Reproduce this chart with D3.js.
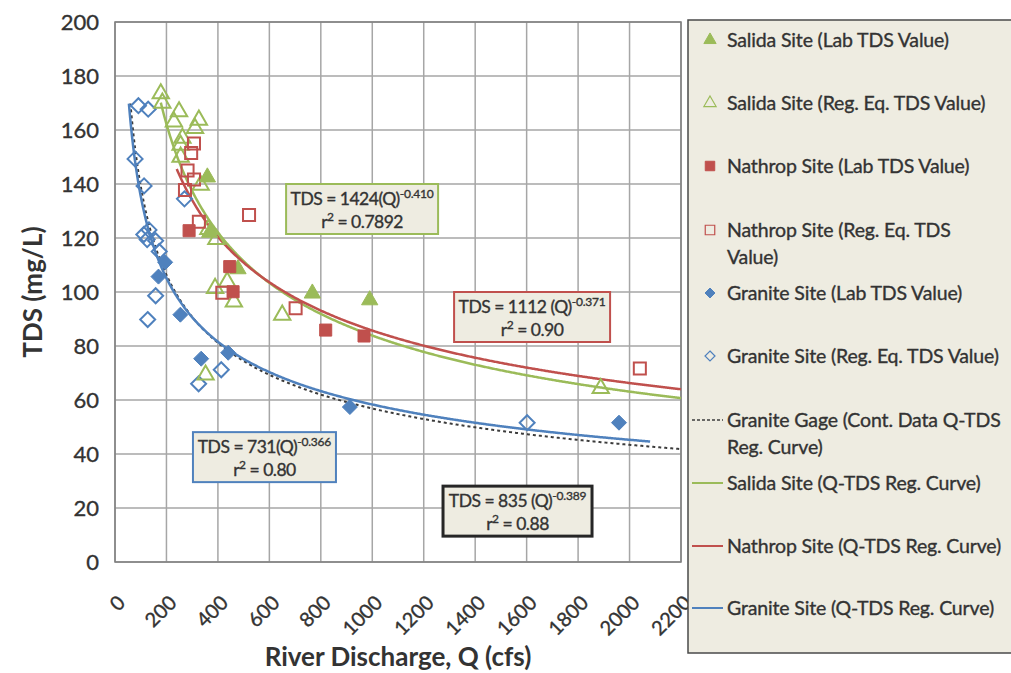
<!DOCTYPE html>
<html>
<head>
<meta charset="utf-8">
<script src="https://cdn.jsdelivr.net/npm/d3@7"></script>
<style>
  html, body { margin: 0; padding: 0; background: #fff; }
  svg { display: block; }
  text { font-family: Lato, "Open Sans", sans-serif; fill: #333; }
  .heavy { stroke: #333; stroke-width: 0.35px; }
</style>
</head>
<body>
<svg id="chart" width="1011" height="673"></svg>
<script>
// Discharge (cfs) and TDS (mg/L) pairs for each sampling series
const salidaLab = [[359, 142.5], [368, 122], [478, 108.5], [767, 99.5], [990, 97]];
const salidaReg = [[178, 173.5], [184, 170], [249, 166.8], [229, 163], [326, 163.7], [311, 160.6],
  [262, 157], [255, 154.4], [255, 150], [333, 139.6], [363, 123.2], [394, 119.5],
  [436, 103.8], [389, 101.4], [462, 96.4], [352, 69.3], [650, 91.5], [1888, 64.3]];
const nathropLab = [[288, 122.7], [446, 109.4], [459, 100.1], [819, 85.9], [968, 83.7]];
const nathropReg = [[307, 155], [296, 151.5], [282, 145], [307, 141.7], [272, 137.8], [326, 126],
  [521, 128.5], [417, 99.7], [702, 94], [2040, 71.7]];
const graniteLab = [[195, 111], [169, 105.7], [254, 91.6], [335, 75.3], [440, 77.5], [913, 57.4], [1959, 51.6]];
const graniteReg = [[91, 169], [129, 167.7], [78, 149.3], [113, 139.3], [270, 134.5], [112, 121.3],
  [132, 123], [125, 119.4], [158, 119], [172, 115], [158, 98.6], [127, 89.8], [325, 66],
  [413, 71.2], [1602, 51.6]];

// Power-law regression curves TDS = a * Q^b and the discharge span each one covers
const curveNames = ["gage", "salida", "nathrop", "granite"];
const curveCoef = [835, 1424, 1112, 731];
const curveExp = [-0.389, -0.410, -0.371, -0.366];
const curveQStart = [60, 178, 240, 54];
const curveQEnd = [2200, 2200, 2200, 2080];

// Equation call-outs: equation lead, exponent, r-squared
const eqLead = ["TDS = 1424(Q)", "TDS = 1112 (Q)", "TDS = 731(Q)", "TDS = 835 (Q)"];
const eqExp = ["-0.410", "-0.371", "-0.366", "-0.389"];
const eqR2 = ["0.7892", "0.90", "0.80", "0.88"];
const eqAnchorQ = [665, 1318, 303, 1275];
const eqAnchorTDS = [140, 100, 48.1, 28.1];

const xTicks = d3.range(0, 2201, 200);
const yTicks = d3.range(0, 201, 20);

const legendLabels = [
  ["Salida Site (Lab TDS Value)"],
  ["Salida Site (Reg. Eq. TDS Value)"],
  ["Nathrop Site (Lab TDS Value)"],
  ["Nathrop Site (Reg. Eq. TDS", "Value)"],
  ["Granite Site (Lab TDS Value)"],
  ["Granite Site (Reg. Eq. TDS Value)"],
  ["Granite Gage (Cont. Data Q-TDS", "Reg. Curve)"],
  ["Salida Site (Q-TDS Reg. Curve)"],
  ["Nathrop Site (Q-TDS Reg. Curve)"],
  ["Granite Site (Q-TDS Reg. Curve)"]
];

const GREEN = "#9bbb59", RED = "#c0504d", BLUE = "#4f81bd", DARK = "#3c3c3c";
const BEIGE = "#eeece1";

const svg = d3.select("#chart");
const plot = { left: 115, right: 681, top: 22, bottom: 562 };

const x = d3.scaleLinear().domain([0, 2200]).range([plot.left, plot.right]);
const y = d3.scaleLinear().domain([0, 200]).range([plot.bottom, plot.top]);

// Grid
const grid = svg.append("g");
grid.selectAll("line.vg").data(xTicks).join("line")
  .attr("x1", d => x(d)).attr("x2", d => x(d))
  .attr("y1", plot.top).attr("y2", plot.bottom)
  .attr("stroke", "#a6a6a6").attr("stroke-width", 1.5);
grid.selectAll("line.hg").data(yTicks).join("line")
  .attr("x1", plot.left).attr("x2", plot.right)
  .attr("y1", d => y(d)).attr("y2", d => y(d))
  .attr("stroke", "#a6a6a6").attr("stroke-width", 1.5);
svg.append("rect")
  .attr("x", plot.left).attr("y", plot.top)
  .attr("width", plot.right - plot.left).attr("height", plot.bottom - plot.top)
  .attr("fill", "none").attr("stroke", "#7f7f7f").attr("stroke-width", 1.5);

// Axes (tick labels only, the grid provides the lines)
const yAxis = svg.append("g").attr("transform", `translate(${plot.left},0)`)
  .call(d3.axisLeft(y).tickValues(yTicks).tickSize(0).tickPadding(16));
yAxis.select(".domain").remove();
yAxis.selectAll("text").attr("font-size", 22).attr("font-family", "Lato, sans-serif")
  .attr("fill", "#333").attr("class", "heavy");

const xAxis = svg.append("g").attr("transform", `translate(0,${plot.bottom})`)
  .call(d3.axisBottom(x).tickValues(xTicks).tickSize(0).tickFormat(d3.format("d")));
xAxis.select(".domain").remove();
xAxis.selectAll("text")
  .attr("font-size", 20).attr("font-family", "Lato, sans-serif").attr("fill", "#333")
  .attr("class", "heavy")
  .attr("text-anchor", "end").attr("dy", null).attr("y", 0)
  .attr("transform", () => `translate(11,42) rotate(-45)`);

// Axis titles
svg.append("text").attr("x", 398).attr("y", 666).attr("text-anchor", "middle")
  .attr("font-size", 26).attr("font-weight", "bold").text("River Discharge, Q (cfs)");
svg.append("text").attr("transform", "translate(42,292) rotate(-90)").attr("text-anchor", "middle")
  .attr("font-size", 26).attr("font-weight", "bold").text("TDS (mg/L)");

// Regression curves
const curveColor = { gage: DARK, salida: GREEN, nathrop: RED, granite: BLUE };
const line = d3.line().x(d => x(d[0])).y(d => y(d[1]));
curveNames.forEach((name, i) => {
  const a = curveCoef[i], b = curveExp[i];
  const qs = d3.range(curveQStart[i], curveQEnd[i], 4).concat([curveQEnd[i]]);
  const pts = qs.map(q => [q, a * Math.pow(q, b)]);
  svg.append("path").datum(pts).attr("d", line).attr("fill", "none")
    .attr("stroke", curveColor[name])
    .attr("stroke-width", name === "gage" ? 2 : 2.5)
    .attr("stroke-dasharray", name === "gage" ? "3,3" : null);
});

// Marker shapes
const triPath = d3.symbol().type(d3.symbolTriangle).size(115)();
const sqPath = d3.symbol().type(d3.symbolSquare).size(145)();
const diamondPath = r => `M0,${-r}L${r},0L0,${r}L${-r},0Z`;
const diaPath = diamondPath(7.5);

function drawPoints(data, shape, color, filled) {
  svg.append("g").selectAll("path").data(data).join("path")
    .attr("transform", d => `translate(${x(d[0])},${y(d[1])})`)
    .attr("d", shape)
    .attr("fill", filled ? color : "none")
    .attr("stroke", color)
    .attr("stroke-width", filled ? 1 : 2);
}
drawPoints(graniteReg, diaPath, BLUE, false);
drawPoints(salidaReg, triPath, GREEN, false);
drawPoints(nathropReg, sqPath, RED, false);
drawPoints(graniteLab, diaPath, BLUE, true);
drawPoints(salidaLab, triPath, GREEN, true);
drawPoints(nathropLab, sqPath, RED, true);

// Equation call-outs
const eqW = [152, 156, 143, 149];
const eqBorder = [GREEN, RED, BLUE, "#262626"];
eqLead.forEach((lead, i) => {
  const bx = x(eqAnchorQ[i]), by = y(eqAnchorTDS[i]);
  const g = svg.append("g").attr("transform", `translate(${bx},${by})`);
  g.append("rect").attr("width", eqW[i]).attr("height", 50)
    .attr("fill", BEIGE).attr("stroke", eqBorder[i]).attr("stroke-width", i === 3 ? 3 : 2);
  const t1 = g.append("text").attr("x", eqW[i] / 2).attr("y", 21).attr("text-anchor", "middle")
    .attr("font-size", 17.5).attr("letter-spacing", -0.5).attr("class", "heavy");
  t1.append("tspan").text(lead);
  t1.append("tspan").attr("dy", -7).attr("font-size", 12).attr("letter-spacing", -0.2).text(eqExp[i]);
  const t2 = g.append("text").attr("x", eqW[i] / 2).attr("y", 44).attr("text-anchor", "middle")
    .attr("font-size", 17.5).attr("letter-spacing", -0.5).attr("class", "heavy");
  t2.append("tspan").text("r");
  t2.append("tspan").attr("dy", -7).attr("font-size", 12).text("2");
  t2.append("tspan").attr("dy", 7).text(" = " + eqR2[i]);
});

// Legend
const lg = svg.append("g");
lg.append("rect").attr("x", 688).attr("y", 20).attr("width", 340).attr("height", 633)
  .attr("fill", BEIGE).attr("stroke", "#4a4a4a").attr("stroke-width", 1.5);
const legendY = [40, 103, 166, 230, 293, 356, 420, 483, 546, 608];
const legendKind = [
  ["tri", GREEN, true], ["tri", GREEN, false], ["sq", RED, true], ["sq", RED, false],
  ["dia", BLUE, true], ["dia", BLUE, false],
  ["line", DARK, true], ["line", GREEN], ["line", RED], ["line", BLUE]
];
const legendShape = {
  tri: d3.symbol().type(d3.symbolTriangle).size(65)(),
  sq: d3.symbol().type(d3.symbolSquare).size(90)(),
  dia: diamondPath(5)
};
legendLabels.forEach((lines, i) => {
  const yy = legendY[i];
  const k = legendKind[i];
  if (k[0] === "line") {
    lg.append("line").attr("x1", 692).attr("x2", 723).attr("y1", yy).attr("y2", yy)
      .attr("stroke", k[1]).attr("stroke-width", k[2] ? 1.5 : 2)
      .attr("stroke-dasharray", k[2] ? "3,2" : null);
  } else {
    lg.append("path").attr("transform", `translate(710,${yy})`).attr("d", legendShape[k[0]])
      .attr("fill", k[2] ? k[1] : "none").attr("stroke", k[1]).attr("stroke-width", k[2] ? 1 : 1.2);
  }
  lines.forEach((txt, j) => {
    lg.append("text").attr("x", 727).attr("y", yy + 7 + j * 27)
      .attr("font-size", 19.5).attr("letter-spacing", -0.15).attr("class", "heavy").text(txt);
  });
});
</script>
</body>
</html>
